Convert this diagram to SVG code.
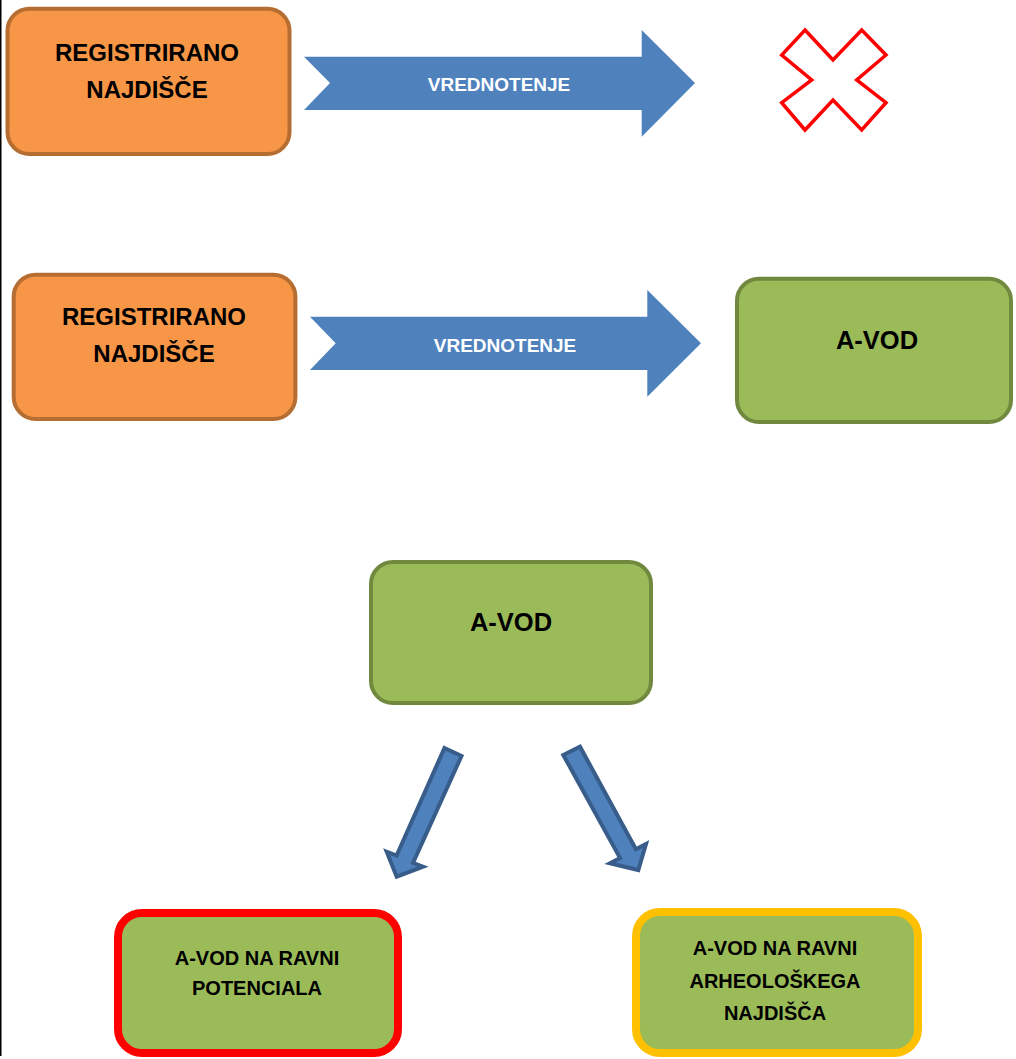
<svg xmlns="http://www.w3.org/2000/svg" width="1016" height="1059" viewBox="0 0 1016 1059">
<style>
.t{font-family:"Liberation Sans",Arial,sans-serif;font-weight:bold;text-anchor:middle;fill:#000}
.big{font-size:24px}
.av{font-size:25.5px}
.sm{font-size:20px}
.at{font-family:"Liberation Sans",Arial,sans-serif;font-weight:bold;text-anchor:middle;fill:#fff;font-size:19px}
.org{fill:#F79646;stroke:#B66D31;stroke-width:4}
.grn{fill:#9BBB59;stroke:#71893F;stroke-width:4}
.blk{fill:#4F81BD}
.dar{fill:#4F81BD;stroke:#385D8A;stroke-width:4;stroke-linejoin:miter}
</style>
<rect width="1016" height="1059" fill="#fff"/>
<line x1="0.75" y1="0" x2="0.75" y2="1056" stroke="#000" stroke-width="1.5"/>
<g id="reg1">
<rect class="org" x="7.5" y="8.7" width="282" height="145.3" rx="22"/>
<text class="t big" x="147" y="61">REGISTRIRANO</text>
<text class="t big" x="147" y="98">NAJDIŠČE</text>
</g>
<g id="reject">
<polygon points="805,30 833,60 861.7,30 886,55 856.7,80 886,102.7 861.7,130 833,100 805,130 781.7,102.7 811.7,80 781.7,55" fill="#fff" stroke="#FF0000" stroke-width="3.5" stroke-linejoin="miter"/>
</g>
<g id="reg2">
<rect class="org" x="13.7" y="274.7" width="281.7" height="144.3" rx="22"/>
<text class="t big" x="154" y="325">REGISTRIRANO</text>
<text class="t big" x="154" y="361.5">NAJDIŠČE</text>
</g>
<g id="avod1">
<rect class="grn" x="737" y="278.7" width="274" height="143.3" rx="22"/>
<text class="t av" x="877" y="349">A-VOD</text>
</g>
<g id="avod2">
<rect class="grn" x="371" y="562" width="280" height="141" rx="22"/>
<text class="t av" x="511" y="631">A-VOD</text>
</g>
<g id="potencial">
<rect x="118" y="913" width="280" height="140" rx="24" fill="#9BBB59" stroke="#FF0000" stroke-width="8"/>
<text class="t sm" x="257" y="965">A-VOD NA RAVNI</text>
<text class="t sm" x="257" y="995">POTENCIALA</text>
</g>
<g id="najdisce">
<rect x="636" y="912" width="282" height="141" rx="24" fill="#9BBB59" stroke="#FFC000" stroke-width="8"/>
<text class="t sm" x="775" y="955">A-VOD NA RAVNI</text>
<text class="t sm" x="775" y="988">ARHEOLOŠKEGA</text>
<text class="t sm" x="775" y="1020">NAJDIŠČA</text>
</g>
<g id="connectors">
<g id="arrow1">
<polygon class="blk" points="304,56.7 641.7,56.7 641.7,30 695,83 641.7,136.7 641.7,110 304,110 330,83"/>
<text class="at" x="499" y="91">VREDNOTENJE</text>
</g>
<g id="arrow2">
<polygon class="blk" points="310,316.7 647.3,316.7 647.3,290 701,343.3 647.3,396.7 647.3,370 310,370 335.7,343.3"/>
<text class="at" x="505" y="351.5">VREDNOTENJE</text>
</g>
<polygon id="arrow3" class="dar" points="444.5,748 461.5,756 413,862.9 423,866.7 396.7,876.7 386.7,851.7 396.6,855.5"/>
<polygon id="arrow4" class="dar" points="563.3,755 580,746.7 635.9,849.3 646,844 638.3,870 610,863.3 620.1,858.1"/>
</g>
</svg>
